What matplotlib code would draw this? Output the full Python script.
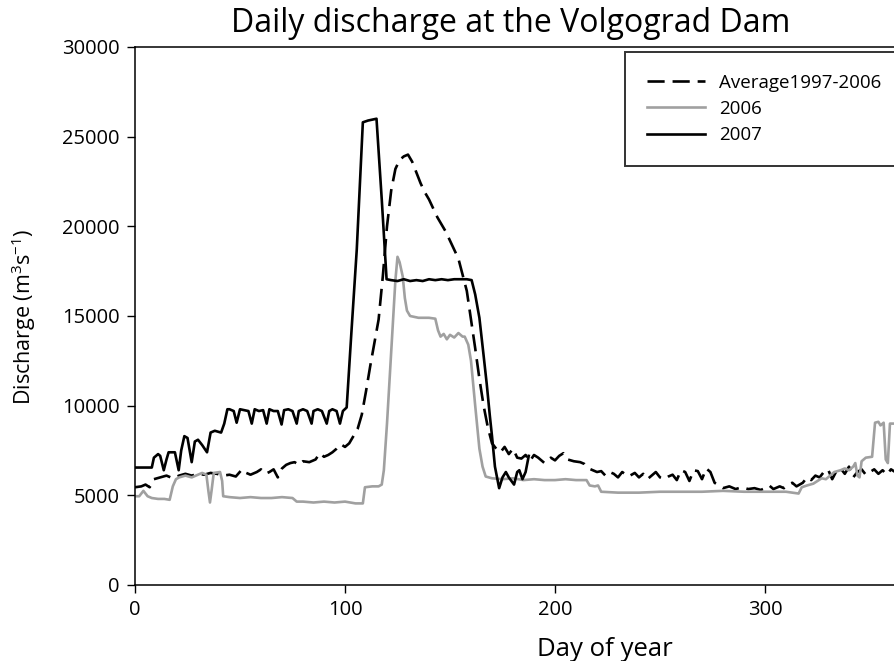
import matplotlib
matplotlib.use("Agg")
import matplotlib.pyplot as plt

plt.rcParams['font.family'] = ['Open Sans', 'DejaVu Sans']
plt.rcParams['mathtext.fontset'] = 'custom'
plt.rcParams['mathtext.rm'] = 'Open Sans'
plt.rcParams['mathtext.it'] = 'Open Sans'
plt.rcParams['mathtext.default'] = 'rm'

# ---- data ----
avg_days = [0, 3, 5, 7, 9, 12, 15, 18, 21, 24, 27, 30, 33, 36, 39, 42, 45, 48, 51, 53, 55, 58, 60, 62, 64,
            66, 68, 70, 72, 74, 76, 78, 80, 83, 86, 88, 90, 92, 94, 96, 98, 100, 102, 104, 106, 108, 110,
            112, 114, 116, 118, 120, 122, 124, 126, 128, 130, 132, 134, 136, 138, 140, 142, 144, 146, 148,
            150, 152, 154, 156, 158, 160, 162, 164, 166, 168, 170, 172, 174, 176, 178, 180, 182, 184, 186,
            188, 190, 192, 195, 198, 200, 202, 204, 206, 209, 212, 214, 216, 218, 220, 222, 224, 226, 228,
            230, 232, 235, 238, 240, 242, 244, 246, 248, 250, 252, 254, 256, 258, 260, 262, 264, 266, 268,
            270, 272, 274, 276, 278, 280, 283, 286, 289, 292, 295, 298, 300, 302, 304, 307, 309, 311, 313,
            315, 318, 320, 322, 324, 326, 328, 330, 332, 334, 336, 338, 340, 342, 344, 346, 348, 350, 352,
            354, 356, 358, 360, 362, 365]
avg_vals = [5450, 5500, 5600, 5450, 5900, 6000, 6100, 5950, 6100, 6200, 6100, 6200, 6150, 6250, 6200, 6100,
            6150, 6050, 6450, 6250, 6150, 6300, 6450, 6200, 6300, 6450, 6000, 6500, 6700, 6800, 6850, 6700,
            6900, 6850, 7000, 7350, 7150, 7250, 7400, 7600, 7850, 7700, 7900, 8300, 8700, 9500, 10800,
            12200, 13500, 14800, 17200, 20000, 22000, 23200, 23700, 23900, 24000, 23600, 23000, 22400,
            21900, 21500, 21000, 20500, 20100, 19700, 19200, 18700, 18200, 17300, 16400, 14800, 13200,
            11500, 10000, 8800, 7900, 7600, 7400, 7700, 7300, 7600, 7100, 7050, 7250, 6900, 7250, 7100,
            6800, 7100, 6950, 7200, 7350, 7000, 6900, 6850, 6750, 6500, 6400, 6300, 6350, 6100, 6300, 6200,
            6000, 6300, 6050, 6250, 6000, 6200, 5900, 6100, 6300, 6000, 5900, 6050, 6150, 5850, 6400, 6300,
            5800, 6400, 6350, 5900, 6500, 6300, 5700, 5550, 5400, 5500, 5350, 5450, 5350, 5400, 5300, 5400,
            5550, 5350, 5500, 5400, 5600, 5700, 5500, 5700, 6000, 5850, 6100, 6000, 6300, 6450, 5900, 6350,
            6500, 6200, 6600, 6000, 6300, 6450, 6150, 6300, 6450, 6200, 6400, 6150, 6450, 6300, 6200]

y2006_days = [0, 2, 4, 6, 8, 11, 14, 16.5, 18, 19.5, 21, 24, 27, 30, 32, 34, 35, 35.7, 36.5, 37.5, 40.5,
              41.5, 42, 45, 50, 55, 60, 65, 70, 75, 77, 80, 85, 90, 95, 100, 105, 108.5, 109.5, 113, 116,
              117.5, 118.5, 120, 122, 124, 125, 126, 127.5, 128.5, 129.5, 131, 135, 140, 143, 144.3, 145.5,
              147, 148.5, 150, 152, 154, 156, 157, 158.7, 160, 162, 164, 165.5, 167, 170, 175, 180, 185,
              190, 195, 200, 205, 210, 215, 216.5, 219, 220.5, 222, 230, 240, 250, 260, 270, 280, 290, 300,
              310, 316, 317.5, 320, 323, 325, 327, 329, 331, 333, 336, 338, 340, 342, 343, 344, 345, 346,
              348, 351, 352.4, 354, 355, 356.5, 357.5, 358.5, 359.5, 362, 365]
y2006_vals = [4950, 4950, 5250, 4950, 4850, 4800, 4800, 4750, 5500, 5900, 6000, 6100, 6000, 6150, 6250,
              6150, 5200, 4600, 5300, 6250, 6300, 5800, 4950, 4900, 4850, 4900, 4850, 4850, 4900, 4850,
              4650, 4650, 4600, 4650, 4600, 4650, 4550, 4550, 5450, 5500, 5500, 5600, 6400, 9000, 13000,
              17000, 18300, 18000, 17200, 16000, 15300, 15000, 14900, 14900, 14850, 14200, 13850, 14000,
              13700, 13950, 13800, 14050, 13850, 13850, 13400, 12500, 10000, 7600, 6600, 6050, 5950, 5900,
              5950, 5850, 5900, 5850, 5850, 5900, 5850, 5850, 5550, 5500, 5550, 5200, 5150, 5150, 5200,
              5200, 5200, 5250, 5200, 5200, 5200, 5100, 5450, 5550, 5650, 5800, 5950, 5900, 6100, 6300,
              6400, 6500, 6400, 6600, 6800, 6100, 6000, 6900, 7100, 7150, 9050, 9100, 8900, 9050, 7000,
              6800, 9000, 9000, 8900]

y2007_days = [0, 8, 9, 11, 12, 13.7, 15, 16, 19, 20.8, 22, 23.5, 25, 27, 28.5, 30, 32, 34.3, 36, 38, 41,
              42.5, 44, 45, 47, 48.4, 50, 52, 54, 55.6, 57, 59, 61, 62.7, 64, 66, 68, 69.8, 71, 73, 75, 77,
              78, 80, 82, 84.1, 85, 87, 89, 91.3, 92.5, 94, 96, 97.6, 99, 100.8, 103, 105.6, 108.5, 111,
              113, 115, 117.5, 119.8, 122, 125, 128, 131, 134, 137, 140, 143, 146, 149, 152, 155, 158,
              160.3, 162, 164, 166, 167.5, 169, 170, 171.4, 173.4, 175, 176.6, 178, 180.5, 182, 183, 184.5,
              186, 187.5]
y2007_vals = [6550, 6550, 7100, 7300, 7200, 6400, 7000, 7400, 7400, 6400, 7500, 8300, 8200, 6850, 8000,
              8100, 7800, 7400, 8500, 8600, 8500, 9000, 9800, 9800, 9700, 9050, 9800, 9750, 9700, 9000,
              9800, 9700, 9750, 9000, 9800, 9700, 9700, 8950, 9750, 9800, 9700, 9000, 9700, 9800, 9700,
              9000, 9700, 9800, 9700, 9000, 9700, 9800, 9700, 9000, 9700, 9900, 14000, 18700, 25800, 25900,
              25950, 26000, 21500, 17050, 17000, 16950, 17050, 16950, 17000, 16950, 17050, 17000, 17050,
              17000, 17050, 17050, 17050, 17000, 16200, 14900, 12800, 11200, 9400, 8300, 6600, 5400, 6000,
              6300, 6000, 5600, 6300, 6400, 5900, 6300, 7200]

labels = ['Average1997-2006', '2006', '2007']
x_ticks = [0, 100, 200, 300]
y_ticks = [0, 5000, 10000, 15000, 20000, 25000, 30000]

W, H = 895, 661
fig = plt.figure(figsize=(W / 100, H / 100), dpi=100)
left, right, top, bottom = 135, 901.5, 47, 585
ax = fig.add_axes([left / W, 1 - bottom / H, (right - left) / W, (bottom - top) / H])

ax.plot(avg_days, avg_vals, color='black', lw=1.9, dashes=(6.5, 3), label=labels[0])
ax.plot(y2006_days, y2006_vals, color='#a0a0a0', lw=1.9, label=labels[1])
ax.plot(y2007_days, y2007_vals, color='black', lw=1.9, label=labels[2])

ax.set_xlim(0, 365)
ax.set_ylim(0, 30000)
ax.set_xticks(x_ticks)
ax.set_yticks(y_ticks)
ax.tick_params(direction='out', length=6, width=1, labelsize=14.5, pad=5)
for s in ax.spines.values():
    s.set_linewidth(1.1)

fig.text(511 / W, 1 - 23 / H, 'Daily discharge at the Volgograd Dam', ha='center', va='center', fontsize=23)
fig.text(604.5 / W, 1 - 650 / H, 'Day of year', ha='center', va='center', fontsize=18.5)
fig.text(24 / W, 1 - 317 / H, 'Discharge (m$^{3}$s$^{-1}$)', ha='center', va='center', rotation=90, fontsize=15.5)

leg = ax.legend(loc='upper left', bbox_to_anchor=(625 / W, 1 - 52 / H), bbox_transform=fig.transFigure,
                fontsize=13.5, frameon=True, fancybox=False, handlelength=3.1, handletextpad=0.75,
                labelspacing=0.45, borderpad=1.15, borderaxespad=0)
leg.get_frame().set_edgecolor('black')
leg.get_frame().set_linewidth(1.4)

fig.savefig('out.png', dpi=100)
